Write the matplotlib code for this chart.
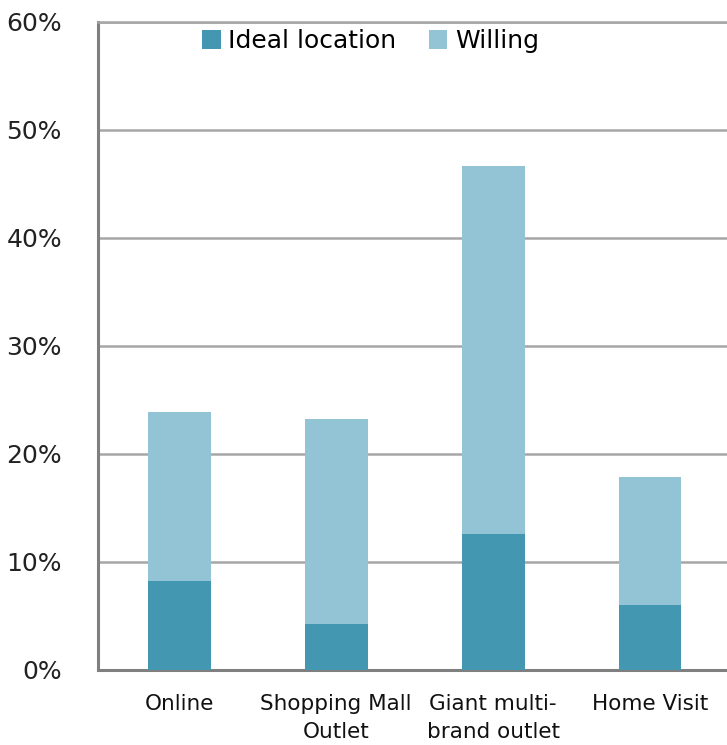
import matplotlib.pyplot as plt
from matplotlib.ticker import PercentFormatter

categories = ['Online', 'Shopping Mall\nOutlet', 'Giant multi-\nbrand outlet', 'Home Visit']
ideal = [8.2, 4.3, 12.6, 6.0]
willing = [15.7, 18.9, 34.1, 11.9]
yticks = [0, 10, 20, 30, 40, 50, 60]

dark = '#4397b0'
light = '#93c4d6'
grid_c = '#a6a6a6'

fig = plt.figure(figsize=(7.27, 7.45), dpi=100)
ax = fig.add_axes([0.1348, 0.1007, 0.8652, 0.8698])

x = range(len(categories))
ax.bar(x, ideal, width=0.4, color=dark, label='Ideal location', zorder=3)
ax.bar(x, willing, width=0.4, bottom=ideal, color=light, label='Willing', zorder=3)

ax.set_xlim(-0.517, 3.49)
ax.set_ylim(0, 60)
ax.set_yticks(yticks)
ax.yaxis.set_major_formatter(PercentFormatter(decimals=0))
ax.set_xticks(list(x))
ax.set_xticklabels(categories, fontsize=15.5, linespacing=1.55)
ax.tick_params(axis='y', length=0, pad=26, labelsize=18, labelcolor='#222222')
ax.tick_params(axis='x', length=0, pad=17, labelcolor='#111111')

ax.grid(axis='y', color=grid_c, linewidth=1.8, zorder=0)
ax.set_axisbelow(True)
ax.spines['right'].set_visible(False)
ax.spines['top'].set_color(grid_c)
ax.spines['top'].set_linewidth(1.8)
ax.spines['left'].set_color('#7f7f7f')
ax.spines['left'].set_linewidth(2.2)
ax.spines['bottom'].set_color('#7f7f7f')
ax.spines['bottom'].set_linewidth(2.2)

ax.legend(loc='upper center', bbox_to_anchor=(0.433, 1.012), ncol=2, frameon=False,
          fontsize=18, handlelength=0.75, handleheight=0.75, handletextpad=0.3,
          columnspacing=1.3, borderaxespad=0.2)

fig.savefig('out.png', dpi=100)
